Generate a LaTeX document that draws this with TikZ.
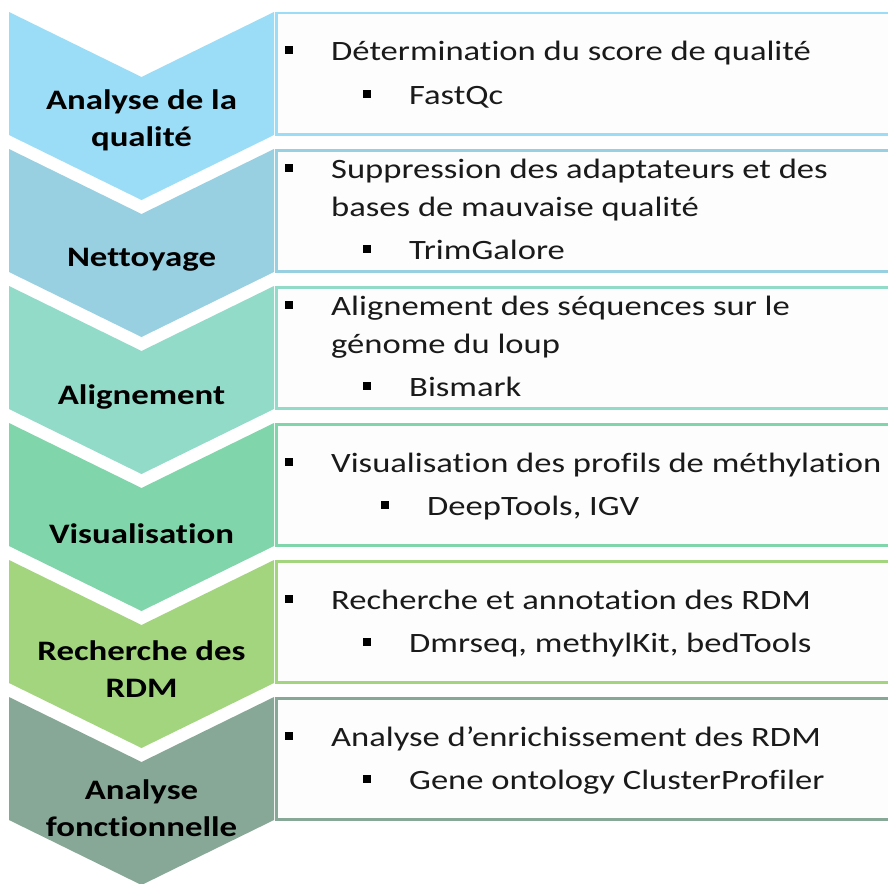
\documentclass[tikz,border=0pt]{standalone}
\usepackage{fontspec}
\setmainfont{Carlito}[FakeStretch=1.235, Ligatures=NoCommon]
\usetikzlibrary{positioning}
\definecolor{cqual}{HTML}{9BDCF7}
\definecolor{cnett}{HTML}{99D0E1}
\definecolor{calign}{HTML}{92DBC9}
\definecolor{cvisu}{HTML}{80D5AA}
\definecolor{crdm}{HTML}{A3D57F}
\definecolor{cfonc}{HTML}{88A897}
\definecolor{cboxfill}{HTML}{FDFDFD}
\definecolor{ctext}{HTML}{1A1A1A}
\tikzset{
  stepbox/.style={fill=cboxfill, line width=2.5pt, anchor=north west,
                  minimum width=625pt, minimum height=121pt, inner sep=0pt},
  steptitle/.style={font=\fontsize{28.2}{37}\selectfont\bfseries, align=center,
                    inner sep=0pt, text=black},
  itemtext/.style={anchor=base west, align=left, font=\fontsize{28}{38}\selectfont,
                   inner sep=0pt, text=ctext},
  bullet/.style={fill=black, minimum size=8pt, inner sep=0pt},
}

\begin{document}
\begin{tikzpicture}[x=1pt, y=-1pt]

  \clip (0,0) rectangle (888,883);
  \fill[white] (0,0) rectangle (888,883);

  % Chevrons
  \fill[cqual]  (9,12)  -- (141.5,77)  -- (274,12)  -- (274,135) -- (141.5,200) -- (9,135) -- cycle;
  \fill[cnett]  (9,149) -- (141.5,214) -- (274,149) -- (274,272) -- (141.5,337) -- (9,272) -- cycle;
  \fill[calign] (9,286) -- (141.5,351) -- (274,286) -- (274,409) -- (141.5,474) -- (9,409) -- cycle;
  \fill[cvisu]  (9,423) -- (141.5,488) -- (274,423) -- (274,546) -- (141.5,611) -- (9,546) -- cycle;
  \fill[crdm]   (9,560) -- (141.5,625) -- (274,560) -- (274,683) -- (141.5,748) -- (9,683) -- cycle;
  \fill[cfonc]  (9,697) -- (141.5,762) -- (274,697) -- (274,820) -- (141.5,885) -- (9,820) -- cycle;

  % Step titles
  \node[steptitle] (t1) at (141.5,120) {Analyse de la\\qualité};
  \node[steptitle] (t2) at (141.5,260) {Nettoyage};
  \node[steptitle] (t3) at (141.5,397) {Alignement};
  \node[steptitle] (t4) at (141.5,534) {Visualisation};
  \node[steptitle] (t5) at (141.5,669) {Recherche des\\RDM};
  \node[steptitle] (t6) at (141.5,808) {Analyse\\fonctionnelle};

  % Boxes
  \node[stepbox, draw=cqual]  (box1) at (275,12)  {};
  \node[stepbox, draw=cnett]  (box2) at (275,149) {};
  \node[stepbox, draw=calign] (box3) at (275,286) {};
  \node[stepbox, draw=cvisu]  (box4) at (275,423) {};
  \node[stepbox, draw=crdm]   (box5) at (275,560) {};
  \node[stepbox, draw=cfonc]  (box6) at (275,697) {};

  % Box 1
  \node[bullet] (d1a) at (289,50) {};
  \node[itemtext] (s1a) at (331,60) {Détermination du score de qualité};
  \node[bullet] (d1b) at (367,94) {};
  \node[itemtext] (s1b) at (409,104) {FastQc};

  % Box 2 (base = last line)
  \node[bullet] (d2a) at (289,168) {};
  \node[itemtext] (s2a) at (331,216) {Suppression des adaptateurs et des\\bases de mauvaise qualité};
  \node[bullet] (d2b) at (367,249) {};
  \node[itemtext] (s2b) at (409,259) {TrimGalore};

  % Box 3 (base = last line)
  \node[bullet] (d3a) at (289,305) {};
  \node[itemtext] (s3a) at (331,353) {Alignement des séquences sur le\\génome du loup};
  \node[bullet] (d3b) at (367,386) {};
  \node[itemtext] (s3b) at (409,396) {Bismark};

  % Box 4
  \node[bullet] (d4a) at (289,462) {};
  \node[itemtext] (s4a) at (331,472) {Visualisation des profils de méthylation};
  \node[bullet] (d4b) at (385,505) {};
  \node[itemtext] (s4b) at (427,515) {DeepTools, IGV};

  % Box 5
  \node[bullet] (d5a) at (289,599) {};
  \node[itemtext] (s5a) at (331,609) {Recherche et annotation des RDM};
  \node[bullet] (d5b) at (367,642) {};
  \node[itemtext] (s5b) at (409,652) {Dmrseq, methylKit, bedTools};

  % Box 6
  \node[bullet] (d6a) at (289,736) {};
  \node[itemtext] (s6a) at (331,746) {Analyse d’enrichissement des RDM};
  \node[bullet] (d6b) at (367,779) {};
  \node[itemtext] (s6b) at (409,789) {Gene ontology ClusterProfiler};

\end{tikzpicture}
\end{document}
